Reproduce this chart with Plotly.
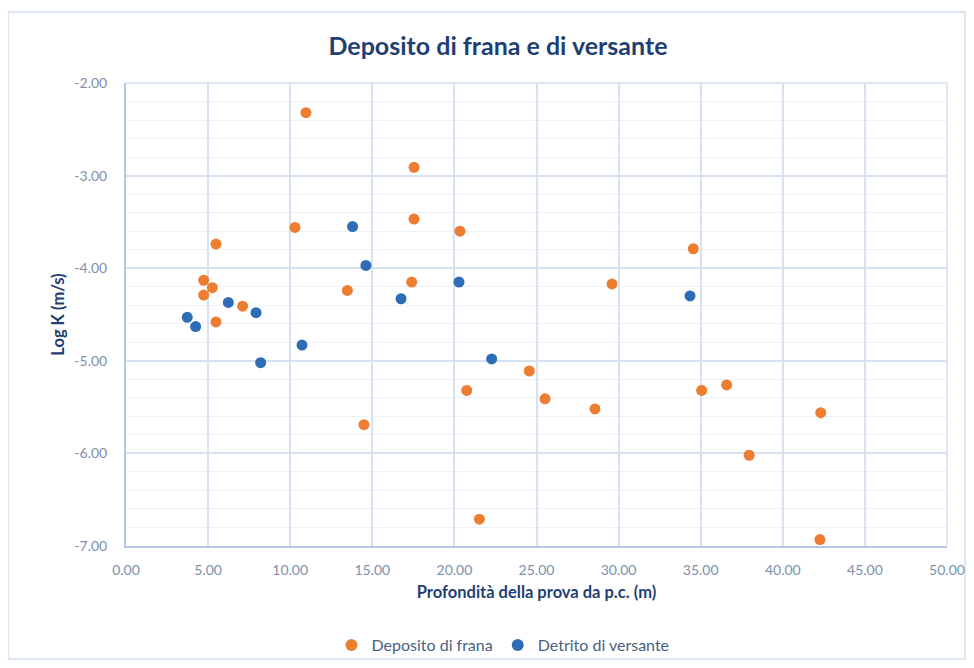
import plotly.graph_objects as go

# Deposito di frana (orange)
frana_x = [5.48, 4.73, 5.26, 4.73, 5.48, 7.10, 10.96, 17.54, 10.29, 17.54, 20.34, 13.48, 17.40,
           20.75, 24.56, 25.52, 28.56, 21.52, 14.49, 29.60, 34.55, 35.06, 36.58, 42.31, 37.95, 42.26]
frana_y = [-3.74, -4.13, -4.21, -4.29, -4.58, -4.41, -2.32, -2.91, -3.56, -3.47, -3.60, -4.24, -4.15,
           -5.32, -5.11, -5.41, -5.52, -6.71, -5.69, -4.17, -3.79, -5.32, -5.26, -5.56, -6.02, -6.93]

# Detrito di versante (blue)
detrito_x = [3.73, 4.24, 6.23, 7.92, 8.20, 10.72, 13.80, 14.61, 16.75, 20.28, 22.27, 34.35]
detrito_y = [-4.53, -4.63, -4.37, -4.48, -5.02, -4.83, -3.55, -3.97, -4.33, -4.15, -4.98, -4.30]

x_ticks = [0, 5, 10, 15, 20, 25, 30, 35, 40, 45, 50]
y_ticks = [-7, -6, -5, -4, -3, -2]

title_text = "Deposito di frana e di versante"
x_title = "Profondità della prova da p.c. (m)"
y_title = "Log K (m/s)"

dark = "#1F3F73"
tick_col = "#7D8FAD"
grid_major = "#D6E1F2"
grid_minor = "#ECF1F9"
axis_col = "#B4C7E7"

W, H = 958, 652
L, R, T, B = 118, 19, 75, 114
PW, PH = W - L - R, H - T - B

fig = go.Figure()
fig.add_trace(go.Scatter(x=frana_x, y=frana_y, mode="markers", name="Deposito di frana",
                         marker=dict(color="#ED7D31", size=11, line=dict(width=0))))
fig.add_trace(go.Scatter(x=detrito_x, y=detrito_y, mode="markers", name="Detrito di versante",
                         marker=dict(color="#2E6DB6", size=11, line=dict(width=0))))

fig.update_layout(
    width=W, height=H,
    margin=dict(l=L, r=R, t=T, b=B, autoexpand=False),
    paper_bgcolor="white", plot_bgcolor="white",
    font=dict(family="Lato, Open Sans, sans-serif", size=12, color=tick_col),
    title=dict(text="<b>" + title_text + "</b>", x=490 / W, xref="container", xanchor="center",
               y=1 - 38 / H, yref="container", yanchor="middle",
               font=dict(size=25, color=dark, family="Lato, sans-serif")),
    showlegend=True,
    legend=dict(orientation="h", x=(495 - L) / PW, xanchor="center",
                y=-(637 - (H - B)) / PH, yanchor="middle",
                font=dict(size=16, color="#4A5F80"), itemsizing="constant",
                bgcolor="rgba(0,0,0,0)"),
    shapes=[dict(type="rect", xref="paper", yref="paper",
                 x0=-L / PW, x1=(W - 1 - L) / PW,
                 y0=-(H - 1 - (H - B)) / PH, y1=1 + (T - 4) / PH,
                 line=dict(color="#D3DEF0", width=1.5), fillcolor="rgba(0,0,0,0)", layer="below")],
)

fig.update_xaxes(range=[0, 50], tickvals=x_ticks, ticktext=[f"{v:.2f}" for v in x_ticks],
                 automargin=False,
                 showgrid=True, gridcolor=grid_major, gridwidth=1.5,
                 showline=True, linecolor=axis_col, linewidth=2, mirror=False,
                 zeroline=False, ticks="", ticklen=0, ticklabelstandoff=10,
                 tickfont=dict(size=14, color=tick_col),
                 title=dict(text="<b>" + x_title + "</b>", standoff=10,
                            font=dict(size=16.5, color=dark)))
fig.update_yaxes(range=[-7, -2], tickvals=y_ticks, ticktext=[f"{v:.2f}" for v in y_ticks],
                 automargin=False,
                 showgrid=True, gridcolor=grid_major, gridwidth=1.5,
                 minor=dict(dtick=0.2, tick0=-7, showgrid=True, gridcolor=grid_minor, gridwidth=1),
                 showline=True, linecolor=axis_col, linewidth=2,
                 zeroline=False, ticks="", ticklen=0, ticklabelstandoff=14,
                 tickfont=dict(size=14, color=tick_col),
                 title=dict(text="<b>" + y_title + "</b>", standoff=6,
                            font=dict(size=16.5, color=dark)))

# right/top plot borders (light)
fig.add_shape(type="line", xref="paper", yref="paper", x0=1, x1=1, y0=0, y1=1,
              line=dict(color=grid_major, width=1.5))
fig.add_shape(type="line", xref="paper", yref="paper", x0=0, x1=1, y0=1, y1=1,
              line=dict(color=grid_major, width=1.5))

fig.write_html("out.html")
